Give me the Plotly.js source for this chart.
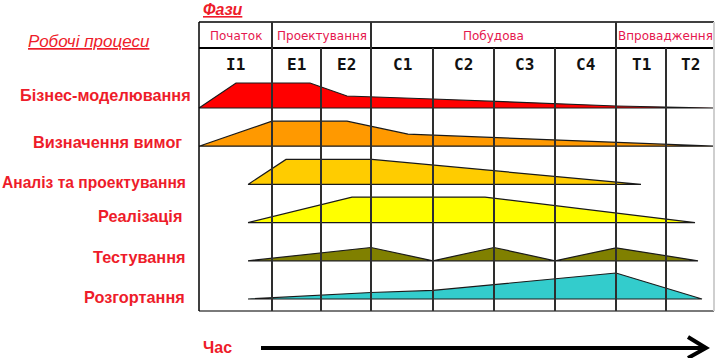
<!DOCTYPE html>
<html>
<head>
<meta charset="utf-8">
<script src="https://cdn.plot.ly/plotly-3.0.1.min.js"></script>
<style>
html,body{margin:0;padding:0;background:#fff;}
#chart{width:716px;height:358px;}
</style>
</head>
<body>
<div id="chart"></div>
<script>
// ---------- DATA ----------
const iterations = ['I1','E1','E2','C1','C2','C3','C4','T1','T2'];
// iteration boundaries on the time axis (time units)
const iterBounds = [0, 73, 122, 172, 234, 295, 356, 417, 467, 515];
const phases = ['Початок','Проектування','Побудова','Впровадження'];
// first / last iteration index covered by each phase
const phaseStart = [0, 1, 3, 7];
const phaseEnd   = [1, 3, 7, 9];

const workflows = ['Бізнес-моделювання','Визначення вимог','Аналіз та проектування','Реалізація','Тестування','Розгортання'];

// effort profiles: time points and effort levels
const bizT  = [0, 37, 111, 148, 234, 417, 515];
const bizE  = [0, 25, 25, 12, 9, 2, 0];
const reqT  = [0, 73, 148, 209, 515];
const reqE  = [0, 25, 25, 12, 0];
const anaT  = [49, 87, 173, 442];
const anaE  = [0, 25, 25, 0];
const implT = [49, 153, 286, 496];
const implE = [0, 25.5, 25.5, 0];
const testT = [49, 172, 234, 295, 356, 417, 499];
const testE = [0, 13.3, 0, 13.3, 0, 13, 0];
const depT  = [49, 122, 172, 234, 417, 503];
const depE  = [0, 4, 6.5, 8.6, 26, 0];

const profilesT = [bizT, reqT, anaT, implT, testT, depT];
const profilesE = [bizE, reqE, anaE, implE, testE, depE];

// ---------- STYLE / LAYOUT ----------
const fillColors = ['#FF0000','#FF9900','#FFCC00','#FFFF00','#808000','#33CCCC'];
const labelColor = '#EE1C2A';
const phaseColor = '#E5174E';
const T0 = 199;            // pixel of time 0
const firstBase = 108;     // baseline of first row (px)
const rowGap = 38.2;
const effortScale = 1;

const traces = [];
workflows.forEach((w, k) => {
  const base = firstBase + k * rowGap;
  const t = profilesT[k], e = profilesE[k];
  const xs = t.slice();
  const ys = e.map(v => base - v * effortScale);
  xs.push(t[t.length-1], t[0]);
  ys.push(base, base);
  traces.push({
    type: 'scatter', mode: 'lines', x: xs, y: ys,
    fill: 'toself', fillcolor: fillColors[k],
    line: {color: '#1a1a1a', width: 1.2},
    hoverinfo: 'skip', showlegend: false
  });
});

const shapes = [];
const gridTop = 22, headerBottom = 48, gridBottom = 311;
const tEnd = iterBounds[iterBounds.length-1];
// outer frame
shapes.push({type:'line', x0:0, x1:tEnd, y0:gridTop, y1:gridTop, line:{color:'#000', width:1.5}});
shapes.push({type:'line', x0:0, x1:tEnd, y0:headerBottom, y1:headerBottom, line:{color:'#000', width:2}});
shapes.push({type:'line', x0:0, x1:tEnd, y0:gridBottom, y1:gridBottom, line:{color:'#7a7a7a', width:2}});
shapes.push({type:'line', x0:0, x1:0, y0:gridTop, y1:gridBottom, line:{color:'#000', width:1.5}});
shapes.push({type:'line', x0:tEnd, x1:tEnd, y0:gridTop, y1:gridBottom, line:{color:'#cfcfcf', width:2}});
// iteration dividers
const phaseBoundIdx = phaseEnd.slice(0, -1);
for (let i = 1; i < iterBounds.length - 1; i++) {
  const isPhase = phaseBoundIdx.indexOf(i) >= 0;
  shapes.push({type:'line', layer:'above', x0:iterBounds[i], x1:iterBounds[i],
    y0: isPhase ? gridTop : headerBottom, y1: gridBottom,
    line:{color:'#2e2e2e', width:2}});
}
// time arrow
shapes.push({type:'line', x0:62, x1:506, y0:348, y1:348, line:{color:'#000', width:4}});
shapes.push({type:'path', path:'M 489 337 L 507 348 L 489 358', line:{color:'#000', width:4}, fillcolor:'rgba(0,0,0,0)'});

const annotations = [];
// phase labels
phases.forEach((p, i) => {
  const xc = (iterBounds[phaseStart[i]] + iterBounds[phaseEnd[i]]) / 2;
  annotations.push({x: xc, y: 36, text: p, showarrow:false, xanchor:'center', yanchor:'middle',
    font:{family:'DejaVu Sans', size:12, color:phaseColor}});
});
// iteration labels
iterations.forEach((it, i) => {
  const xc = (iterBounds[i] + iterBounds[i+1]) / 2;
  annotations.push({x: xc, y: 64, text: '<b>' + it + '</b>', showarrow:false, xanchor:'center', yanchor:'middle',
    font:{family:'DejaVu Sans Mono', size:16, color:'#111'}});
});
// workflow labels
const labelRight = [-6, -15, -11, -15, -12, -12];
const labelSize = [16.3, 16.3, 15.6, 16.3, 16.3, 16.3];
const labelY = [95, 142, 182, 216, 257, 297];
workflows.forEach((w, k) => {
  annotations.push({x: labelRight[k], y: labelY[k], text: '<b>' + w + '</b>', showarrow:false,
    xanchor:'right', yanchor:'middle',
    font:{family:'Liberation Sans', size:labelSize[k], color:labelColor}});
});
// titles
annotations.push({x: 89 - T0, y: 41, text: '<i><u>Робочі процеси</u></i>', showarrow:false,
  xanchor:'center', yanchor:'middle', font:{family:'Liberation Sans', size:17, color:labelColor}});
annotations.push({x: 223 - T0, y: 0, text: '<b><i><u>Фази</u></i></b>', showarrow:false,
  xanchor:'center', yanchor:'top', yshift:1, font:{family:'Liberation Sans', size:16, color:labelColor}});
annotations.push({x: 217 - T0, y: 347, text: '<b>Час</b>', showarrow:false,
  xanchor:'center', yanchor:'middle', font:{family:'Liberation Sans', size:16, color:labelColor}});

const layout = {
  width: 716, height: 358,
  margin: {l:0, r:0, t:0, b:0},
  paper_bgcolor: '#fff', plot_bgcolor: '#fff',
  xaxis: {range: [-T0, 716 - T0], visible:false, fixedrange:true},
  yaxis: {range: [358, 0], visible:false, fixedrange:true},
  shapes: shapes, annotations: annotations, showlegend:false
};
Plotly.newPlot('chart', traces, layout, {displayModeBar:false, staticPlot:true});
</script>
</body>
</html>
